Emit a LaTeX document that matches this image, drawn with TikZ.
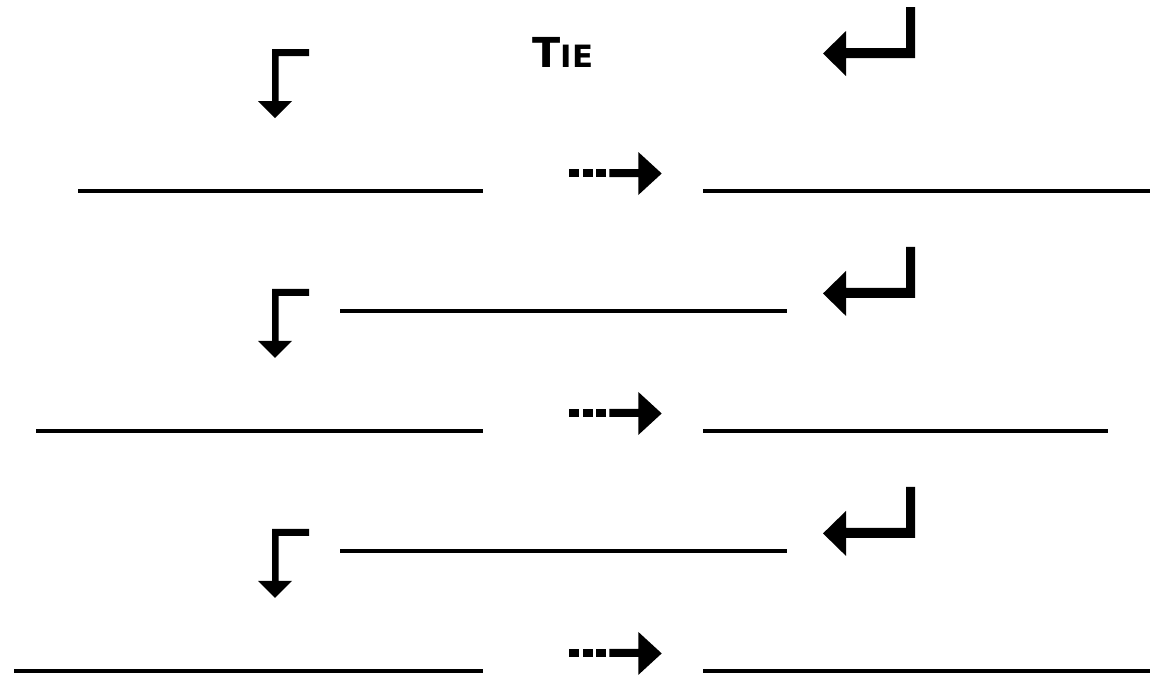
\documentclass[tikz,border=0pt]{standalone}
\usepackage{fontspec}
\newfontfamily\tiefont{DejaVu Sans Bold}
\begin{document}
\begin{tikzpicture}[x=0.02cm, y=-0.02cm]
				\useasboundingbox (0,0) rectangle (1150,677);
				% title
				\node[anchor=base, inner sep=0pt] (tie) at (563,67) {\tiefont\fontsize{23.5}{25}\selectfont T\fontsize{17.5}{20}\selectfont IE};
				\foreach \k/\xa/\xb in {0/78/1150, 1/36/1108, 2/14/1150}{
					\begin{scope}[yshift=-\k*4.8cm]
					% bent arrow down
					\fill (272,49) -- (309,49) -- (309,56) -- (278.5,56) -- (278.5,101) -- (292,101)
						-- (275,118) -- (258,101) -- (272,101) -- cycle;
					% return arrow
					\fill (906,7) -- (915,7) -- (915,58) -- (846,58) -- (846,76) -- (823,53.5)
						-- (846,31) -- (846,48) -- (906,48) -- cycle;
					% dashed arrow
					\foreach \x in {569.3,582.7,596}
					\fill (\x,169) rectangle (\x+10,177);
					\fill (609.3,169) -- (638.3,169) -- (638.3,152) -- (661.7,173.5) -- (638.3,195)
						-- (638.3,177) -- (609.3,177) -- cycle;
					% blanks
					\draw[line width=0.08cm] (\xa,191) -- (483,191);
					\draw[line width=0.08cm] (703,191) -- (\xb,191);
					\end{scope}
				}
				% middle blanks
				\foreach \y in {311,551}
				\draw[line width=0.08cm] (340,\y) -- (787,\y);
\end{tikzpicture}
\end{document}
